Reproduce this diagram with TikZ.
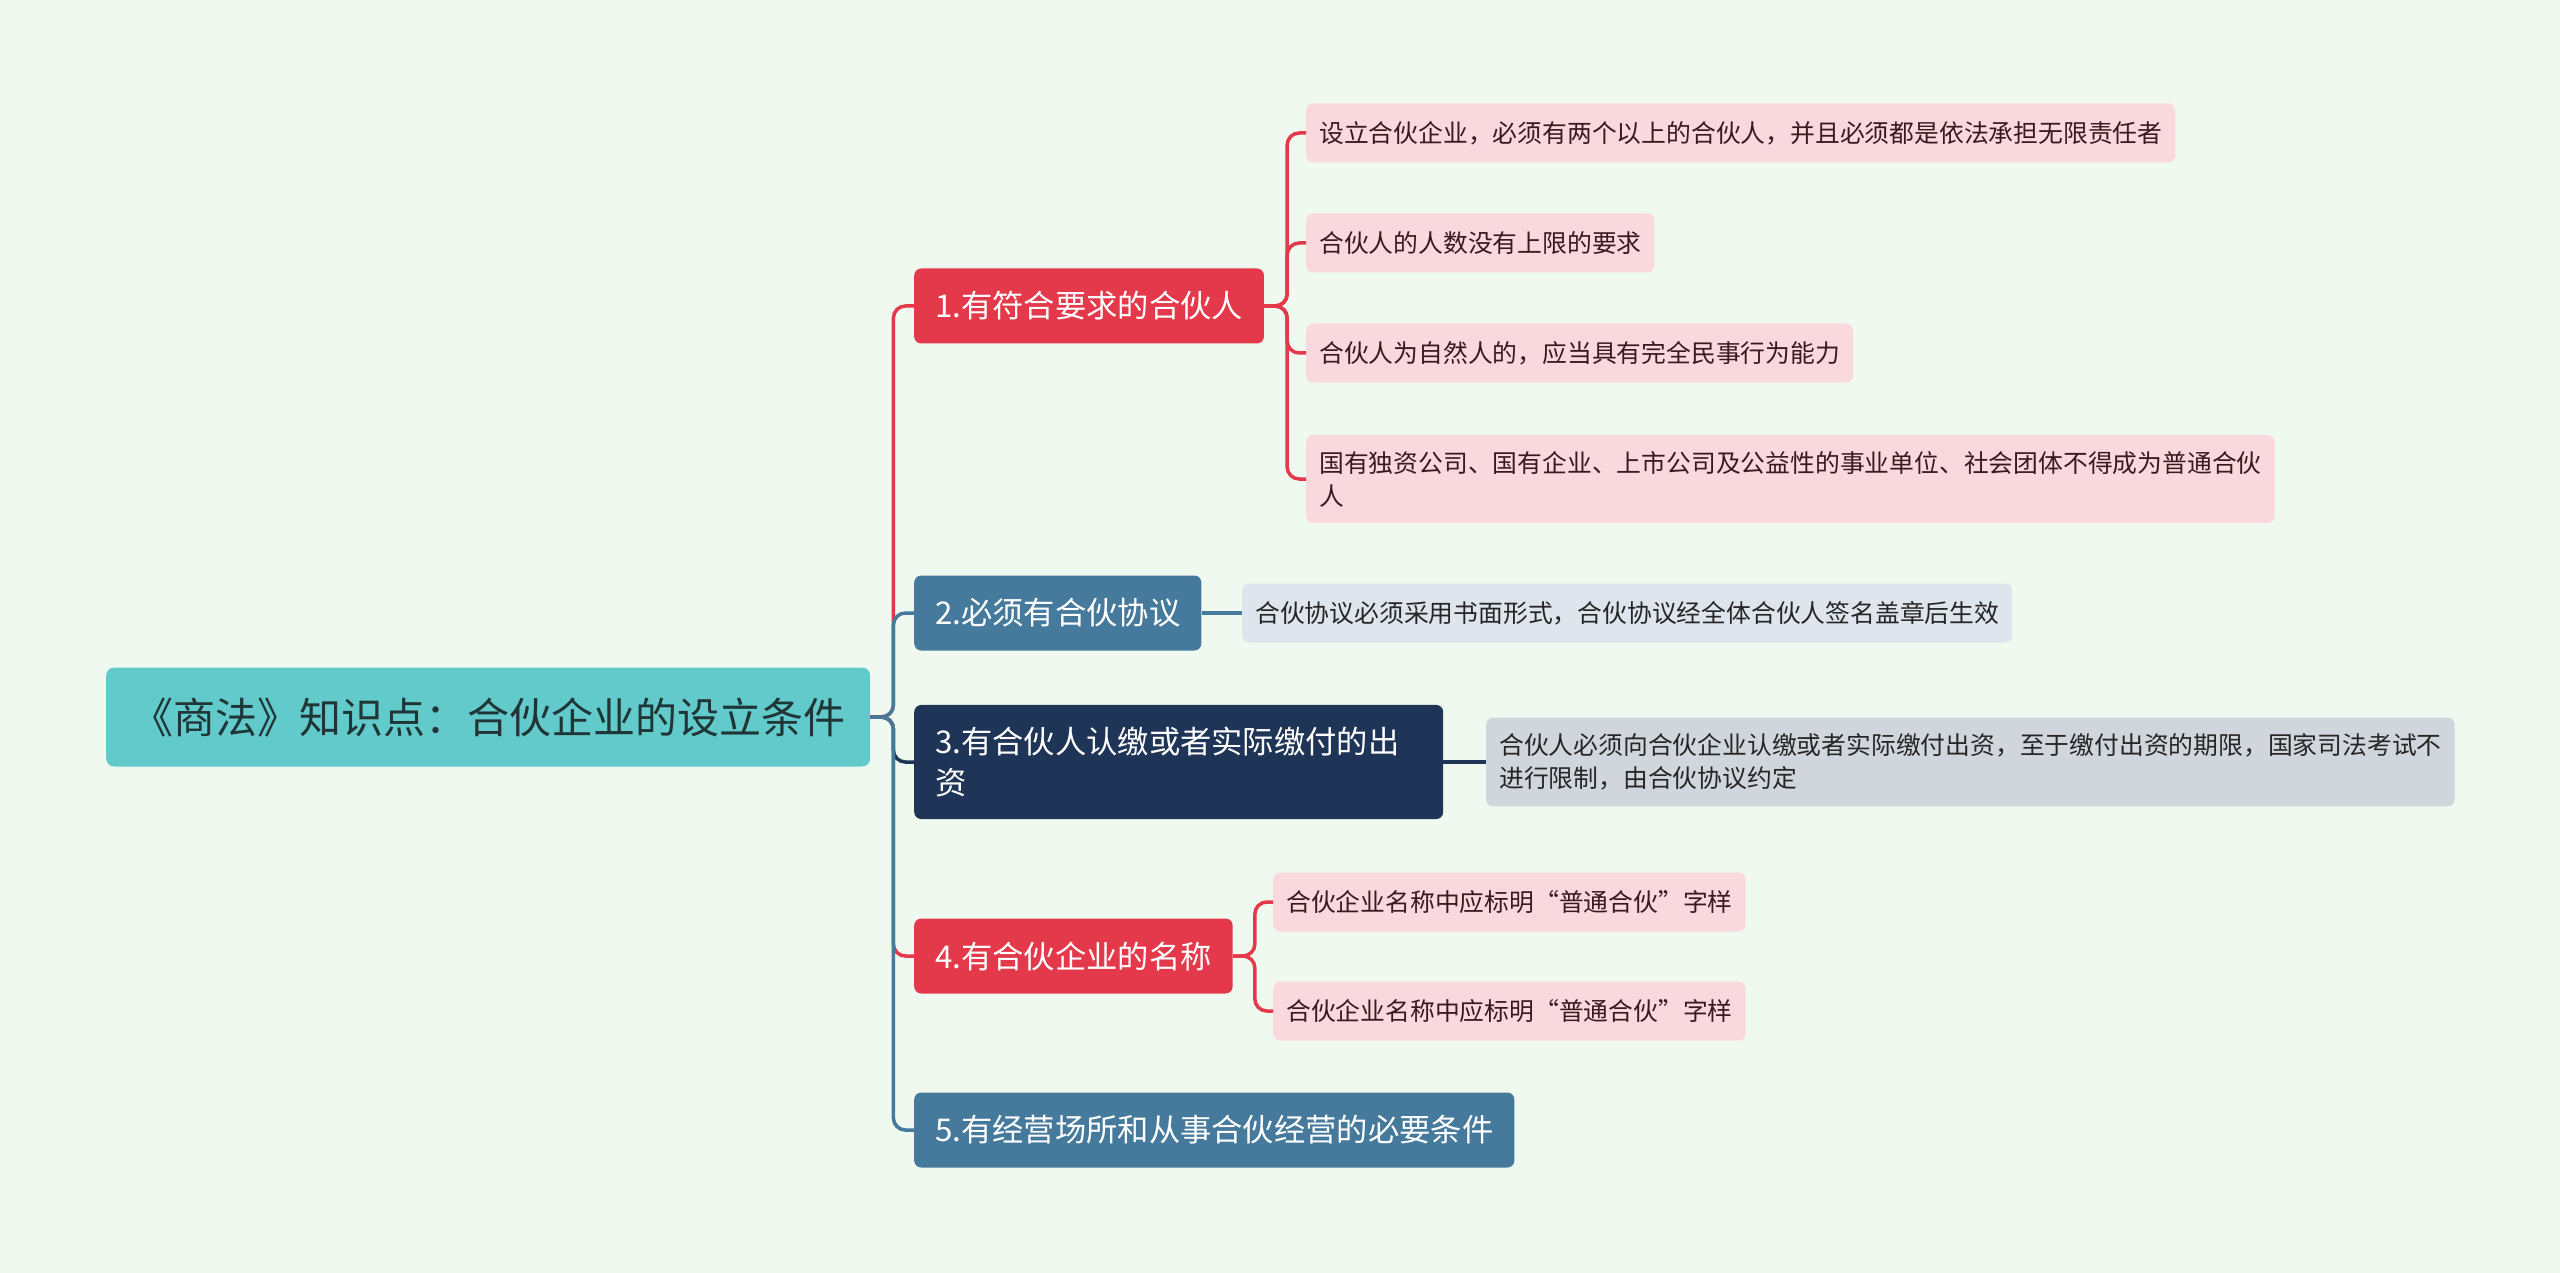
\documentclass[tikz,border=0pt]{standalone}
\usepackage{fontspec}
\setmainfont{Noto Sans CJK SC}
\usepackage{tikz}

\definecolor{paper}{HTML}{F0F9EF}
\definecolor{rootteal}{HTML}{63CACC}
\definecolor{rootink}{HTML}{1F3536}
\definecolor{redhead}{HTML}{E3394A}
\definecolor{bluehead}{HTML}{467A9C}
\definecolor{navyhead}{HTML}{1F3557}
\definecolor{pinkleaf}{HTML}{FAD9DE}
\definecolor{pinkink}{HTML}{3A1A1E}
\definecolor{mistleaf}{HTML}{DEE5EC}
\definecolor{greyleaf}{HTML}{D1D6DD}

\begin{document}
\begin{tikzpicture}[x=1pt,y=-1pt,
  rootbox/.style={rectangle,fill=rootteal,rounded corners=8pt,text=rootink,font=\fontsize{42}{50}\selectfont,inner xsep=25pt,minimum height=99pt,anchor=west},
  headbox/.style={rectangle,rounded corners=7pt,text=white,font=\fontsize{31.3}{41}\selectfont,inner xsep=21pt,inner ysep=22pt,minimum height=75pt,anchor=west,align=left},
  leafbox/.style={rectangle,rounded corners=7pt,font=\fontsize{24.8}{33}\selectfont,inner xsep=13pt,inner ysep=16pt,minimum height=59pt,anchor=west,align=left},
  link/.style={line width=3.5pt,rounded corners=12pt}]

\fill[paper] (0,0) rectangle (2560,1273);
\useasboundingbox (0,0) rectangle (2560,1273);

\node (Root) at (106,717) [rootbox] {《商法》知识点：合伙企业的设立条件};

\node (Partners) at (914,306) [headbox,fill=redhead] {1.有符合要求的合伙人};
\node (Agreement) at (914,613) [headbox,fill=bluehead] {2.必须有合伙协议};
\node (Capital) at (914,762) [headbox,fill=navyhead,text width=487pt] {3.有合伙人认缴或者实际缴付的出\\资};
\node (Name) at (914,956) [headbox,fill=redhead] {4.有合伙企业的名称};
\node (Premises) at (914,1130) [headbox,fill=bluehead] {5.有经营场所和从事合伙经营的必要条件};

\node (PartnersA) at (1306,133) [leafbox,fill=pinkleaf,text=pinkink] {设立合伙企业，必须有两个以上的合伙人，并且必须都是依法承担无限责任者};
\node (PartnersB) at (1306,243) [leafbox,fill=pinkleaf,text=pinkink] {合伙人的人数没有上限的要求};
\node (PartnersC) at (1306,353) [leafbox,fill=pinkleaf,text=pinkink] {合伙人为自然人的，应当具有完全民事行为能力};
\node (PartnersD) at (1306,479) [leafbox,fill=pinkleaf,text=pinkink] {国有独资公司、国有企业、上市公司及公益性的事业单位、社会团体不得成为普通合伙\\人};

\node (AgreementA) at (1242,613) [leafbox,fill=mistleaf,text=black!85] {合伙协议必须采用书面形式，合伙协议经全体合伙人签名盖章后生效};

\node (CapitalA) at (1486,762) [leafbox,fill=greyleaf,text=black!85] {合伙人必须向合伙企业认缴或者实际缴付出资，至于缴付出资的期限，国家司法考试不\\进行限制，由合伙协议约定};

\node (NameA) at (1273,902) [leafbox,fill=pinkleaf,text=pinkink] {合伙企业名称中应标明“普通合伙”字样};
\node (NameB) at (1273,1011) [leafbox,fill=pinkleaf,text=pinkink] {合伙企业名称中应标明“普通合伙”字样};

% root branches
\draw[link,redhead] (Root.east) -- ++(23,0) |- (Partners.west);
\draw[link,bluehead] (Root.east) -- ++(23,0) |- (Agreement.west);
\draw[link,navyhead] (Root.east) -- ++(23,0) |- (Capital.west);
\draw[link,redhead] (Root.east) -- ++(23,0) |- (Name.west);
\draw[link,bluehead] (Root.east) -- ++(23,0) |- (Premises.west);

% leaves
\foreach \leaf in {PartnersA,PartnersB,PartnersC,PartnersD}
  \draw[link,redhead] (Partners.east) -- ++(23,0) |- (\leaf.west);
\draw[link,bluehead] (Agreement.east) -- (AgreementA.west);
\draw[link,navyhead] (Capital.east) -- (CapitalA.west);
\foreach \leaf in {NameA,NameB}
  \draw[link,redhead] (Name.east) -- ++(22,0) |- (\leaf.west);

\end{tikzpicture}
\end{document}
